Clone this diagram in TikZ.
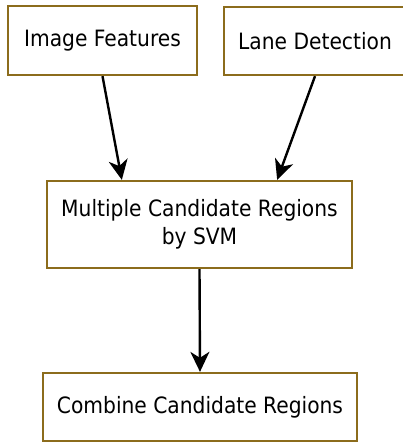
\documentclass[tikz,border=0pt]{standalone}
\usepackage{fontspec}
\setmainfont{DejaVu Sans Condensed}
\usetikzlibrary{arrows.meta}
\definecolor{boxbrown}{RGB}{140,108,28}
\begin{document}
\begin{tikzpicture}[x=1pt,y=-1pt,
  box/.style={draw=boxbrown, line width=2.3pt, fill=white, inner sep=0pt, align=center, font=\fontsize{22.5}{28.5}\selectfont},
  arr/.style={-{Stealth[length=20pt,width=19pt,inset=6pt]}, line width=2.4pt, black}]
\useasboundingbox (0,0) rectangle (402,442);
\node[box, minimum width=189pt, minimum height=69pt] (b1) at (102.5,40.5) {Image Features};
\node[box, minimum width=182pt, minimum height=68pt] (b2) at (315,41) {Lane Detection};
\node[box, minimum width=305pt, minimum height=87pt] (b3) at (199.5,224.5) {Multiple Candidate Regions\\by SVM};
\node[box, minimum width=314pt, minimum height=68pt] (b4) at (200,407) {Combine Candidate Regions};
\draw[arr] (b1.south) -- ([xshift=76pt]b3.north west);
\draw[arr] (b2.south) -- ([xshift=-76pt]b3.north east);
\draw[arr] (b3.south) -- (b4.north);
\end{tikzpicture}
\end{document}
